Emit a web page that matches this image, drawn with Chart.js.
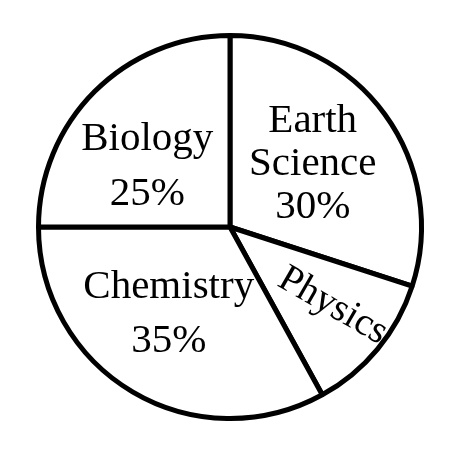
<!DOCTYPE html>
<html>
<head>
<meta charset="utf-8">
<script src="https://cdn.jsdelivr.net/npm/chart.js@4.4.1/dist/chart.umd.min.js"></script>
<style>
html,body{margin:0;padding:0;background:#fff;}
#wrap{width:460px;height:464px;position:relative;}
</style>
</head>
<body>
<div id="wrap"><canvas id="c"></canvas></div>
<script>
const categories = ["Earth Science", "Physics", "Chemistry", "Biology"];
const shares = [30, 12, 33, 25];
const labelLines = [["Earth", "Science", "30%"], ["Physics"], ["Chemistry", "35%"], ["Biology", "25%"]];

// label placement (relative to pie centre, in units of radius) and styling
const labelStyle = [
  {fx: 0.432, fy: -0.339, lh: 43, rot: 0},
  {fx: 0.51, fy: 0.458, lh: 0, rot: 30, single: true},
  {fx: -0.32, fy: 0.443, lh: 54, rot: 0},
  {fx: -0.432, fy: -0.326, lh: 55, rot: 0}
];

const textPlugin = {
  id: 'sliceText',
  afterDatasetsDraw(chart) {
    const ctx = chart.ctx;
    const meta = chart.getDatasetMeta(0);
    meta.data.forEach((arc, i) => {
      const st = labelStyle[i];
      const r = arc.outerRadius;
      const cx = arc.x + st.fx * r;
      const cy = arc.y + st.fy * r;
      const lines = labelLines[i];
      ctx.save();
      ctx.fillStyle = '#000';
      ctx.font = '41px "Liberation Serif", "Times New Roman", serif';
      ctx.textAlign = 'center';
      ctx.textBaseline = 'alphabetic';
      ctx.translate(cx, cy);
      ctx.rotate(st.rot * Math.PI / 180);
      if (st.single) {
        ctx.font = '39px "Liberation Serif", "Times New Roman", serif';
        ctx.fillText(lines[0], 0, 0);
      } else {
        const n = lines.length;
        const first = -(n - 1) * st.lh / 2 + 13;
        lines.forEach((t, k) => ctx.fillText(t, 0, first + k * st.lh));
      }
      ctx.restore();
    });
  }
};

new Chart(document.getElementById('c'), {
  type: 'pie',
  data: {
    labels: categories,
    datasets: [{
      data: shares,
      backgroundColor: '#ffffff',
      borderColor: '#000000',
      borderWidth: 5,
      borderAlign: 'center'
    }]
  },
  options: {
    responsive: true,
    maintainAspectRatio: false,
    animation: false,
    layout: {padding: {left: 36, right: 36, top: 32, bottom: 42}},
    plugins: {legend: {display: false}, tooltip: {enabled: false}}
  },
  plugins: [textPlugin]
});
</script>
</body>
</html>
